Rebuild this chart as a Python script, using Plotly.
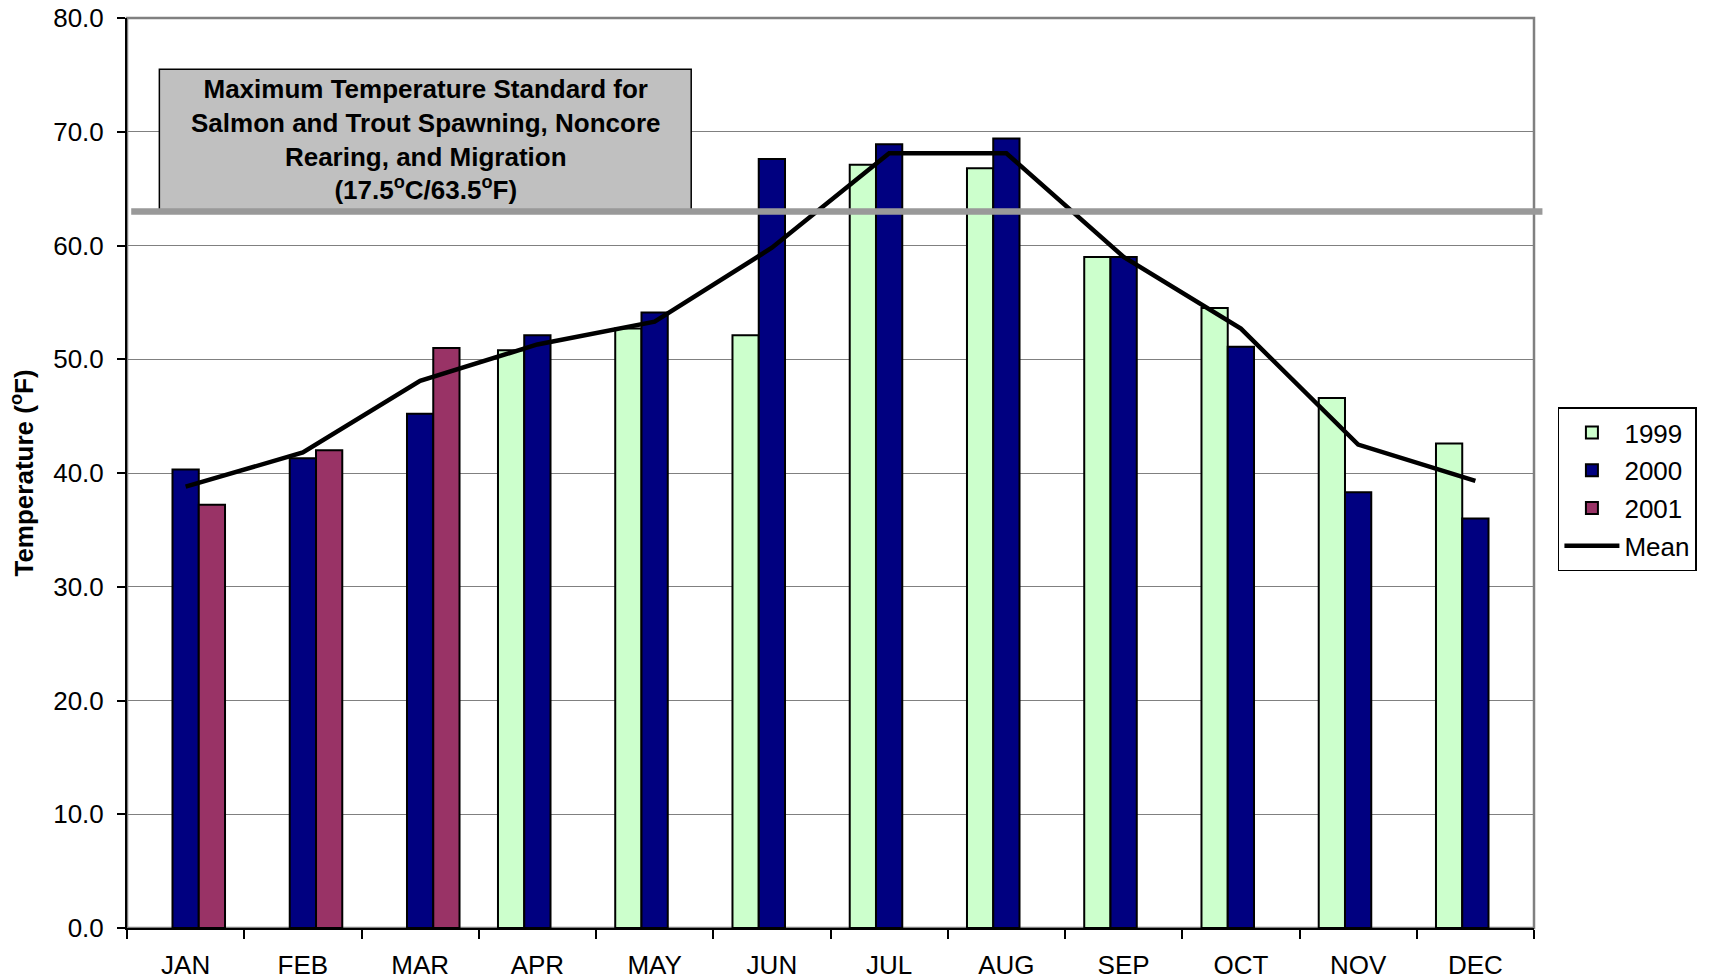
import plotly.graph_objects as go

months = ["JAN", "FEB", "MAR", "APR", "MAY", "JUN", "JUL", "AUG", "SEP", "OCT", "NOV", "DEC"]
t1999 = [None, None, None, 50.8, 52.7, 52.1, 67.1, 66.8, 59.0, 54.5, 46.6, 42.6]
t2000 = [40.3, 41.3, 45.2, 52.1, 54.1, 67.6, 68.9, 69.4, 59.0, 51.1, 38.3, 36.0]
t2001 = [37.2, 42.0, 51.0, None, None, None, None, None, None, None, None, None]
mean = [38.8, 41.8, 48.1, 51.3, 53.3, 59.8, 68.1, 68.1, 59.0, 52.7, 42.5, 39.3]
standard_f = 63.0
y_ticks = [0, 10, 20, 30, 40, 50, 60, 70, 80]

FONT = "Liberation Sans, Arial, sans-serif"

fig = go.Figure()
fig.add_trace(go.Bar(x=months, y=t1999, name="1999", legendgroup="a",
                     marker=dict(color="#CCFFCC", line=dict(color="black", width=2))))
fig.add_trace(go.Bar(x=months, y=t2000, name="2000", legendgroup="b",
                     marker=dict(color="#000080", line=dict(color="black", width=2))))
fig.add_trace(go.Bar(x=months, y=t2001, name="2001", legendgroup="c",
                     marker=dict(color="#993366", line=dict(color="black", width=2))))
fig.add_trace(go.Scatter(x=months, y=mean, name="Mean", mode="lines", legendgroup="d",
                         line=dict(color="black", width=4.5)))

# annotation box
fig.add_shape(type="rect", xref="paper", yref="y", x0=0.023, x1=0.401, y0=standard_f, y1=75.5,
              fillcolor="#C0C0C0", line=dict(color="black", width=1.5), layer="above")
# standard line
fig.add_shape(type="line", xref="paper", yref="y", x0=0.003, x1=1.006, y0=standard_f, y1=standard_f,
              line=dict(color="#999999", width=6.5), layer="above")
fig.add_annotation(xref="paper", yref="y", x=0.212, y=69.3, xanchor="center", yanchor="middle",
                   showarrow=False,
                   text="<b>Maximum Temperature Standard for<br>Salmon and Trout Spawning, Noncore<br>"
                        "Rearing, and Migration<br>(17.5<sup>o</sup>C/63.5<sup>o</sup>F)</b>",
                   font=dict(family=FONT, size=26, color="black"), align="center")

# plot frame (gray)
fig.add_shape(type="rect", xref="paper", yref="paper", x0=0, x1=1, y0=0, y1=1,
              line=dict(color="#808080", width=2.5), layer="below")

fig.update_layout(
    width=1709, height=980,
    margin=dict(l=127, r=171, t=18, b=52),
    paper_bgcolor="white", plot_bgcolor="white",
    barmode="group", bargap=0.328, bargroupgap=0,
    font=dict(family=FONT, size=26, color="black"),
    legend=dict(x=1.017, y=0.572, xanchor="left", yanchor="top",
                bordercolor="black", borderwidth=1.5, bgcolor="white",
                font=dict(family=FONT, size=26), traceorder="grouped", tracegroupgap=1,
                itemwidth=55),
    showlegend=True,
)
fig.update_xaxes(showline=True, linecolor="black", linewidth=2, ticks="outside", ticklen=9,
                 tickwidth=1.5, tickcolor="black", tickson="boundaries", showgrid=False,
                 tickfont=dict(family=FONT, size=26), ticklabelstandoff=13, automargin=False)
fig.update_yaxes(range=[0, 80], tickvals=y_ticks, tickformat=".1f", showline=True,
                 linecolor="black", linewidth=2, ticks="outside", ticklen=8, tickwidth=1.5,
                 tickcolor="black", showgrid=True, gridcolor="#808080", gridwidth=1,
                 zeroline=False, tickfont=dict(family=FONT, size=26), ticklabelstandoff=8,
                 automargin=False,
                 title=dict(text="<b>Temperature (<sup>o</sup>F)</b>",
                            font=dict(family=FONT, size=26), standoff=12))

fig.write_html("out.html", config={"displayModeBar": False},
               post_script="document.body.style.margin='0';")
